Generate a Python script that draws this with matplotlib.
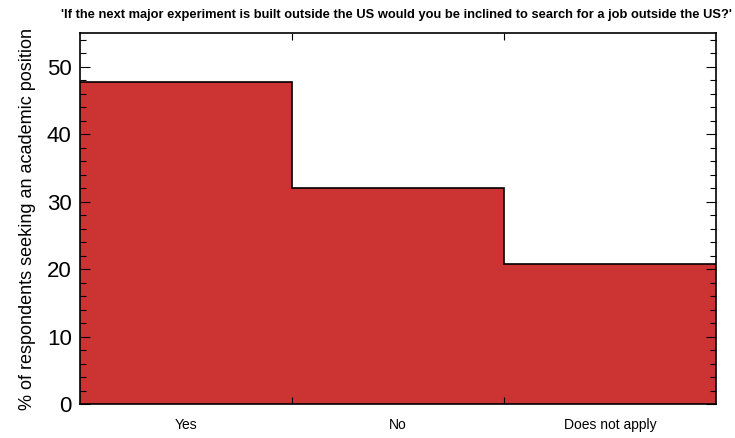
import matplotlib
matplotlib.use("Agg")
import matplotlib.pyplot as plt
from matplotlib.ticker import MultipleLocator, FixedLocator, NullFormatter

plt.rcParams['font.family'] = ['Liberation Sans', 'DejaVu Sans']

categories = ["Yes", "No", "Does not apply"]
values = [47.7, 32.0, 20.8]
title = "'If the next major experiment is built outside the US would you be inclined to search for a job outside the US?'"
ylabel = "% of respondents seeking an academic position"

fig = plt.figure(figsize=(7.35, 4.38), dpi=100)
ax = fig.add_axes([80/735, 1-404/438, 636/735, 371/438])

x = list(range(len(categories)))
edges = [i - 0.5 for i in x] + [x[-1] + 0.5]
ax.bar(x, values, width=1.0, color="#CC3333", linewidth=0, align="center")
ax.stairs(values, edges, baseline=None, color="black", linewidth=1.2)
ax.set_xlim(-0.5, len(categories) - 0.5)
ax.set_ylim(0, 55)

ax.yaxis.set_major_locator(MultipleLocator(10))
ax.yaxis.set_minor_locator(MultipleLocator(2))
ax.tick_params(axis='y', which='both', direction='in', left=True, right=True, labelsize=16, pad=6)
ax.tick_params(axis='y', which='major', length=7, width=0.8)
ax.tick_params(axis='y', which='minor', length=4, width=0.8)

ax.set_xticks(x)
ax.set_xticklabels(categories, fontsize=10)
ax.tick_params(axis='x', which='major', length=0, pad=10)
ax.xaxis.set_minor_locator(FixedLocator([i + 0.5 for i in x[:-1]]))
ax.xaxis.set_minor_formatter(NullFormatter())
ax.tick_params(axis='x', which='minor', direction='in', length=5, top=True, bottom=True, width=0.8)

for s in ax.spines.values():
    s.set_linewidth(1.2)

ax.set_ylabel(ylabel, fontsize=13, labelpad=8)
fig.text(0.54, 0.965, title, ha='center', va='center', fontsize=9.3, fontweight='bold')

fig.savefig("out.png", dpi=100)
